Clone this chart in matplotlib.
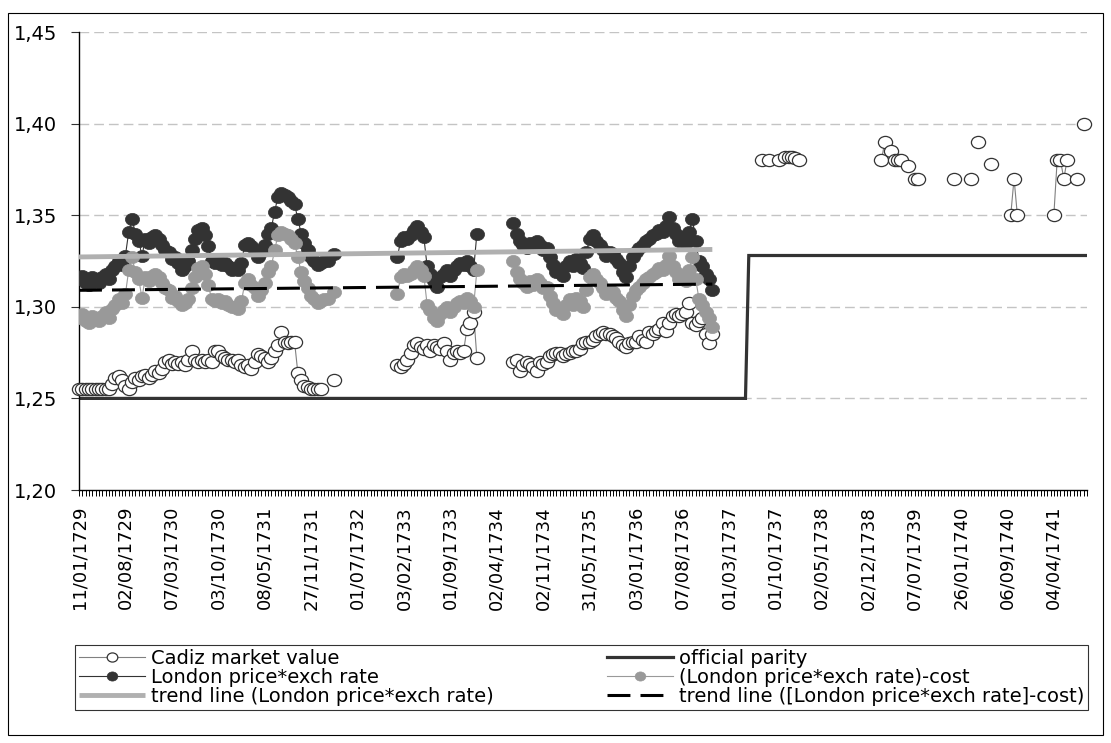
import numpy as np
import matplotlib
matplotlib.use("Agg")
import matplotlib.pyplot as plt
from matplotlib.patches import Rectangle
from matplotlib.path import Path
from matplotlib.ticker import FuncFormatter

plt.rcParams['font.family'] = ['DejaVu Sans']

# ---------------- data ----------------
n_categories = 305
label_step = 14
tick_labels = ["11/01/1729", "02/08/1729", "07/03/1730", "03/10/1730", "08/05/1731",
               "27/11/1731", "01/07/1732", "03/02/1733", "01/09/1733", "02/04/1734",
               "02/11/1734", "31/05/1735", "03/01/1736", "07/08/1736", "01/03/1737",
               "01/10/1737", "02/05/1738", "02/12/1738", "07/07/1739", "26/01/1740",
               "06/09/1740", "04/04/1741"]

# segment A (categories 0..77)
seg_a_start = 0
cadiz_a = [1.255, 1.255, 1.255, 1.255, 1.255, 1.255, 1.255, 1.255, 1.255, 1.255,
           1.258, 1.261, 1.262, 1.260, 1.257, 1.255, 1.259, 1.261, 1.260, 1.262, 1.263, 1.261, 1.263, 1.265, 1.264,
           1.266, 1.270, 1.271, 1.269, 1.270, 1.269, 1.270, 1.268, 1.271, 1.276, 1.271, 1.270, 1.271, 1.270, 1.271,
           1.270, 1.276, 1.276, 1.273, 1.272, 1.271, 1.271, 1.270, 1.271, 1.268, 1.267, 1.268, 1.266, 1.270, 1.274,
           1.273, 1.272, 1.270, 1.272, 1.276, 1.279, 1.286, 1.281, 1.280, 1.281, 1.281, 1.264, 1.260, 1.257, 1.256,
           1.255, 1.255, 1.255, 1.255, None, None, None, 1.260]
london_a = [1.315, 1.317, 1.313, 1.312, 1.316, 1.314, 1.313, 1.316, 1.318, 1.315,
            1.320, 1.322, 1.325, 1.323, 1.328, 1.341, 1.348, 1.340, 1.336, 1.328, 1.337, 1.335, 1.338, 1.339, 1.337,
            1.334, 1.331, 1.330, 1.326, 1.327, 1.324, 1.320, 1.322, 1.325, 1.331, 1.337, 1.342, 1.343, 1.339, 1.333,
            1.325, 1.324, 1.325, 1.323, 1.324, 1.322, 1.320, 1.321, 1.320, 1.324, 1.334, 1.335, 1.333, 1.331, 1.327,
            1.330, 1.334, 1.340, 1.343, 1.352, 1.360, 1.362, 1.361, 1.360, 1.358, 1.356, 1.348, 1.340, 1.335, 1.331,
            1.327, 1.325, 1.323, 1.324, 1.325, 1.325, None, 1.329]
cost_a = [1.294, 1.296, 1.292, 1.291, 1.295, 1.293, 1.292, 1.295, 1.297, 1.294,
          1.299, 1.301, 1.304, 1.302, 1.307, 1.320, 1.327, 1.319, 1.315, 1.305, 1.316, 1.314, 1.317, 1.318, 1.316,
          1.313, 1.310, 1.309, 1.305, 1.306, 1.303, 1.301, 1.302, 1.304, 1.310, 1.316, 1.321, 1.322, 1.318, 1.312,
          1.304, 1.303, 1.304, 1.302, 1.303, 1.301, 1.300, 1.300, 1.299, 1.303, 1.313, 1.315, 1.312, 1.310, 1.306,
          1.309, 1.313, 1.319, 1.322, 1.331, 1.339, 1.341, 1.340, 1.339, 1.337, 1.335, 1.327, 1.319, 1.314, 1.310,
          1.306, 1.304, 1.302, 1.303, 1.304, 1.304, None, 1.308]

# segment B (categories 96..120)
seg_b_start = 96
cadiz_b = [1.268, 1.267, 1.269, 1.271, 1.275, 1.279, 1.280, 1.278, 1.277, 1.279, 1.276, 1.279, 1.278,
           1.277, 1.280, 1.276, 1.271, 1.275, 1.276, 1.275, 1.276, 1.288, 1.291, 1.297, 1.272]
london_b = [1.327, 1.336, 1.338, 1.337, 1.339, 1.342, 1.344, 1.341, 1.338, 1.322, 1.318, 1.314, 1.311,
            1.316, 1.318, 1.320, 1.317, 1.320, 1.322, 1.324, 1.323, 1.325, 1.322, 1.320, 1.340]
cost_b = [1.307, 1.316, 1.318, 1.317, 1.318, 1.320, 1.322, 1.320, 1.317, 1.301, 1.298, 1.294, 1.292,
          1.296, 1.298, 1.300, 1.297, 1.300, 1.302, 1.303, 1.302, 1.305, 1.303, 1.300, 1.320]

# segment C (categories 131..191)
seg_c_start = 131
cadiz_c = [1.270, 1.271, 1.265, 1.268, 1.270, 1.269, 1.267, 1.265, 1.270, 1.269, 1.270, 1.273, 1.274, 1.275, 1.275,
           1.273, 1.274, 1.275, 1.276, 1.276, 1.277, 1.280, 1.281, 1.281, 1.282, 1.284, 1.285, 1.286, 1.285, 1.285,
           1.284, 1.283, 1.281, 1.279, 1.278, 1.280, 1.281, 1.281, 1.284, 1.282, 1.281, 1.286, 1.285, 1.287, 1.288,
           1.291, 1.287, 1.291, 1.295, 1.296, 1.295, 1.296, 1.297, 1.302, 1.291, 1.290, 1.292, 1.294, 1.285, 1.280, 1.285]
london_c = [1.346, 1.340, 1.336, 1.334, 1.332, 1.335, 1.333, 1.336, 1.334, 1.331, 1.332, 1.327, 1.323, 1.319, 1.320,
            1.317, 1.322, 1.325, 1.322, 1.326, 1.324, 1.321, 1.330, 1.337, 1.339, 1.336, 1.334, 1.331, 1.328, 1.330,
            1.329, 1.326, 1.324, 1.319, 1.316, 1.322, 1.327, 1.330, 1.332, 1.334, 1.336, 1.337, 1.339, 1.340, 1.342,
            1.341, 1.344, 1.349, 1.343, 1.340, 1.336, 1.338, 1.335, 1.341, 1.348, 1.336, 1.325, 1.322, 1.318, 1.315, 1.309]
cost_c = [1.325, 1.319, 1.315, 1.313, 1.311, 1.314, 1.312, 1.315, 1.313, 1.310, 1.311, 1.306, 1.302, 1.298, 1.299,
          1.296, 1.301, 1.304, 1.301, 1.305, 1.303, 1.300, 1.309, 1.316, 1.318, 1.315, 1.313, 1.310, 1.307, 1.309,
          1.308, 1.305, 1.303, 1.298, 1.295, 1.301, 1.306, 1.309, 1.311, 1.313, 1.315, 1.316, 1.318, 1.319, 1.321,
          1.320, 1.323, 1.328, 1.322, 1.319, 1.315, 1.317, 1.314, 1.320, 1.327, 1.315, 1.304, 1.301, 1.297, 1.294, 1.289]

# late Cadiz observations (sparse)
cadiz_late_idx = [206, 208, 211, 213, 214, 215, 216, 217,
                  242, 243, 245, 246, 247, 248, 250, 252, 253,
                  264, 269, 271, 275, 281, 282, 283,
                  294, 295, 296, 297, 298, 301, 303]
cadiz_late_val = [1.38, 1.38, 1.38, 1.382, 1.382, 1.382, 1.381, 1.38,
                  1.38, 1.39, 1.385, 1.38, 1.38, 1.38, 1.377, 1.37, 1.37,
                  1.37, 1.37, 1.39, 1.378, 1.35, 1.37, 1.35,
                  1.35, 1.38, 1.38, 1.37, 1.38, 1.37, 1.40]

# official parity
parity_levels = [1.25, 1.328]
parity_change_idx = 202

# linear trend lines (value at first and last category of the fitted span)
trend_span = [0, 191]
trend_london = [1.3272, 1.3313]
trend_cost = [1.3090, 1.3124]

# ---------------- build series ----------------
def full(segments):
    arr = np.full(n_categories, np.nan)
    for start, vals in segments:
        for k, v in enumerate(vals):
            if v is not None:
                arr[start + k] = v
    return arr

cadiz = full([(seg_a_start, cadiz_a), (seg_b_start, cadiz_b), (seg_c_start, cadiz_c)])
for i, v in zip(cadiz_late_idx, cadiz_late_val):
    cadiz[i] = v
london = full([(seg_a_start, london_a), (seg_b_start, london_b), (seg_c_start, london_c)])
cost = full([(seg_a_start, cost_a), (seg_b_start, cost_b), (seg_c_start, cost_c)])
x = np.arange(n_categories)
parity = np.where(x < parity_change_idx, parity_levels[0], parity_levels[1])

# slightly wide ellipse marker (the original is horizontally stretched)
circ = Path.unit_circle()
ell = Path(circ.vertices * np.array([1.0, 0.86]), circ.codes)

# ---------------- figure ----------------
W, H = 1111, 743
fig = plt.figure(figsize=(W / 100, H / 100), dpi=100)
fig.patch.set_facecolor('white')
fig.patches.append(Rectangle((8 / W, 1 - 735 / H), (1103 - 8) / W, (735 - 13) / H,
                             transform=fig.transFigure, fill=False, edgecolor='black', linewidth=0.8))

ax = fig.add_axes([79 / W, 1 - 490 / H, (1087 - 79) / W, (490 - 32) / H])
ax.set_xlim(0, n_categories - 1)
ax.set_ylim(1.20, 1.45)

ms = 10.2
l_cadiz, = ax.plot(x, cadiz, color='#808080', lw=0.8, marker=ell, ms=ms,
                   mfc='white', mec='#333333', mew=0.9, zorder=3, clip_on=False)
l_parity, = ax.plot(x, parity, color='#333333', lw=2.3, zorder=2,
                    solid_joinstyle='miter')
l_london, = ax.plot(x, london, color='#333333', lw=0.8, marker=ell, ms=ms,
                    mfc='#333333', mec='#333333', mew=0.5, zorder=4)
l_cost, = ax.plot(x, cost, color='#999999', lw=0.8, marker=ell, ms=ms,
                  mfc='#999999', mec='#999999', mew=0.5, zorder=5)
l_tl, = ax.plot(trend_span, trend_london, color='#b0b0b0', lw=3.5, zorder=6,
                solid_capstyle='butt')
l_tc, = ax.plot(trend_span, trend_cost, color='black', lw=2.2,
                linestyle=(0, (7.5, 3.3)), zorder=7)

# grid
ax.set_yticks([1.20, 1.25, 1.30, 1.35, 1.40, 1.45])
for yv in [1.25, 1.30, 1.35, 1.40, 1.45]:
    ax.axhline(yv, color='#c4c4c4', lw=1.0, linestyle=(0, (7, 3.6)), zorder=1)
ax.yaxis.set_major_formatter(FuncFormatter(lambda v, p: f"{v:.2f}".replace('.', ',')))

for s in ['top', 'right']:
    ax.spines[s].set_visible(False)
for s in ['left', 'bottom']:
    ax.spines[s].set_linewidth(1.0)
    ax.spines[s].set_color('black')

ax.set_xticks(np.arange(0, n_categories, label_step))
ax.set_xticklabels(tick_labels, rotation=90, fontsize=13)
ax.set_xticks(x, minor=True)
ax.tick_params(axis='x', which='both', direction='out', length=4.5, width=0.7,
               pad=7, color='black')
ax.tick_params(axis='y', direction='out', length=6, width=0.8, pad=10,
               labelsize=14, color='#333333')

# legend (row-wise order like the original)
handles = [l_cadiz, l_london, l_tl, l_parity, l_cost, l_tc]
labels = ["Cadiz market value", "London price*exch rate",
          "trend line (London price*exch rate)", "official parity",
          "(London price*exch rate)-cost",
          "trend line ([London price*exch rate]-cost)"]
leg = fig.legend(handles, labels, ncol=2, loc='upper left',
                 bbox_to_anchor=(75 / W, 1 - 645 / H, (1088 - 75) / W, 0.0),
                 mode='expand', fontsize=14, handlelength=3.4, handletextpad=0.3,
                 labelspacing=0.0, borderpad=0.2, borderaxespad=0.0,
                 frameon=True, fancybox=False, markerscale=0.75)
leg.get_frame().set_edgecolor('black')
leg.get_frame().set_linewidth(0.8)

fig.savefig('out.png', dpi=100)
